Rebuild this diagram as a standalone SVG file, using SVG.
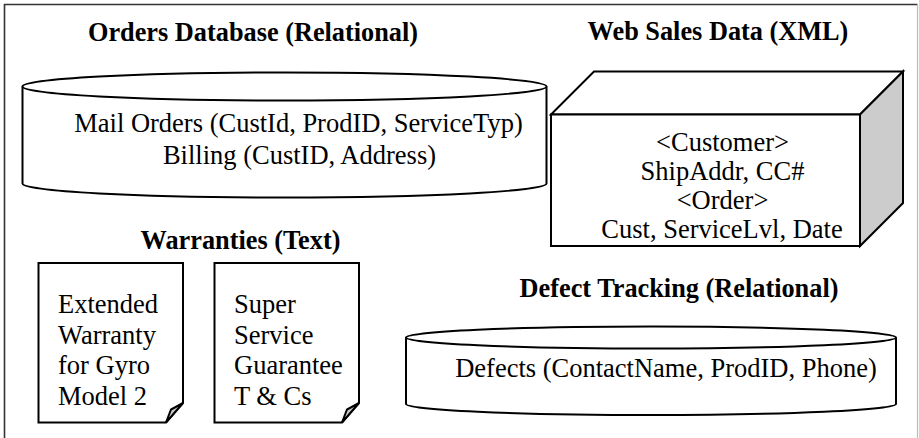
<svg xmlns="http://www.w3.org/2000/svg" width="919" height="438" viewBox="0 0 919 438">
  <style>
    .shape { fill: #ffffff; stroke: #000000; stroke-width: 2; stroke-linejoin: miter; }
    .shade { fill: #cccccc; stroke: #000000; stroke-width: 2; stroke-linejoin: miter; }
    text { font-family: 'Liberation Serif', Tinos, 'Times New Roman', 'DejaVu Serif', serif; font-size: 26.5px; fill: #000000; }
    .title { font-weight: bold; font-size: 26.3px; }
    .mid { text-anchor: middle; }
  </style>

  <rect width="919" height="438" fill="#ffffff"/>

  <!-- frame -->
  <g id="frame">
    <path d="M4.5,438 V4.5 H917.5" fill="none" stroke="#333333" stroke-width="1.6"/>
    <path d="M917.5,4.5 V438" fill="none" stroke="#bbbbbb" stroke-width="1.2"/>
  </g>

  <!-- relational store: orders -->
  <g id="orders-db">
    <text class="title mid" x="253" y="40.5">Orders Database (Relational)</text>
    <path class="shape" d="M22.5,86.5 V183.5 A262,14 0 0 0 546.5,183.5 V86.5"/>
    <ellipse class="shape" cx="284.5" cy="86.5" rx="262" ry="14"/>
    <text class="mid" x="298.5" y="131.5">Mail Orders (CustId, ProdID, ServiceTyp)</text>
    <text class="mid" x="299.5" y="163.5">Billing (CustID, Address)</text>
  </g>

  <!-- XML store: web sales -->
  <g id="web-sales">
    <text class="title mid" x="718" y="40">Web Sales Data (XML)</text>
    <polygon class="shape" points="551,114.5 594,71.5 903,71.5 860,114.5"/>
    <polygon class="shade" points="860,114.5 903,71.5 903,203 860,246"/>
    <rect class="shape" x="551" y="114.5" width="309" height="131.5"/>
    <text class="mid" x="722.5" y="150.5">&lt;Customer&gt;</text>
    <text class="mid" x="722.5" y="179.5">ShipAddr, CC#</text>
    <text class="mid" x="722.5" y="208.5">&lt;Order&gt;</text>
    <text class="mid" x="722" y="238">Cust, ServiceLvl, Date</text>
  </g>

  <!-- text documents -->
  <g id="warranties">
    <text class="title mid" x="240.5" y="249">Warranties (Text)</text>
  </g>

  <g id="doc-extended-warranty">
    <path class="shape" d="M38.5,263 H183 V403 L166,422.5 H38.5 Z"/>
    <polygon class="shade" points="183,403 166,422.5 171,409.5"/>
    <text x="58" y="313">Extended</text>
    <text x="58" y="343.5">Warranty</text>
    <text x="58" y="374">for Gyro</text>
    <text x="58" y="404.5">Model 2</text>
  </g>

  <g id="doc-service-guarantee">
    <path class="shape" d="M214.5,263 H359 V403 L342,422.5 H214.5 Z"/>
    <polygon class="shade" points="359,403 342,422.5 347,409.5"/>
    <text x="234" y="313">Super</text>
    <text x="234" y="343.5">Service</text>
    <text x="234" y="374">Guarantee</text>
    <text x="234" y="404.5">T &amp; Cs</text>
  </g>

  <!-- relational store: defects -->
  <g id="defect-db">
    <text class="title mid" x="679" y="297">Defect Tracking (Relational)</text>
    <path class="shape" d="M406,337.5 V404 A245,11 0 0 0 896,404 V337.5"/>
    <ellipse class="shape" cx="651" cy="337.5" rx="245" ry="11"/>
    <text class="mid" x="666" y="377">Defects (ContactName, ProdID, Phone)</text>
  </g>

  <!-- no connectors are drawn between the stores -->
  <g id="connectors"/>
</svg>
